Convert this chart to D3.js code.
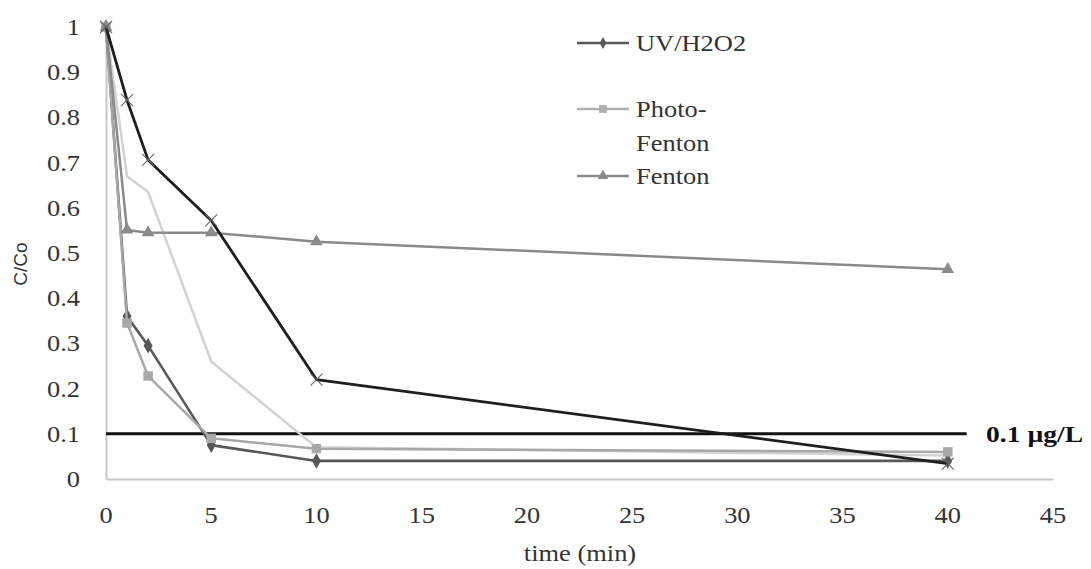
<!DOCTYPE html>
<html><head><meta charset="utf-8">
<script src="https://cdn.jsdelivr.net/npm/d3@7/dist/d3.min.js"></script>
<style>body{margin:0;background:#fff}svg{display:block}</style>
</head><body>
<svg id="c" width="1091" height="569"></svg>
<script>
const times = [0, 1, 2, 5, 10, 40];
const uvH2O2 = [1, 0.36, 0.295, 0.075, 0.04, 0.04];
const photoFenton = [1, 0.345, 0.228, 0.09, 0.067, 0.06];
const fenton = [1, 0.551, 0.545, 0.545, 0.525, 0.464];
const seriesX = [1, 0.838, 0.706, 0.572, 0.22, 0.034];
const seriesLight = [1, 0.67, 0.635, 0.26, 0.07, 0.052];
const limitValue = 0.1;
const limitRange = [0, 40.9];
const limitLabel = "0.1 µg/L";
const xTicks = [0, 5, 10, 15, 20, 25, 30, 35, 40, 45];
const yTicks = [0, 0.1, 0.2, 0.3, 0.4, 0.5, 0.6, 0.7, 0.8, 0.9, 1];
const legendNames = ["UV/H2O2", "Photo-Fenton", "Fenton"];

const svg = d3.select("#c");
const x = d3.scaleLinear().domain([0, 45]).range([106, 1053]);
const y = d3.scaleLinear().domain([0, 1]).range([479, 27]);
const serif = "'Liberation Serif', 'Times New Roman', serif";
const SX = 1.15, FS = 23;

function stext(px, py, str, anchor, opts = {}) {
  const t = svg.append("text")
    .attr("transform", `translate(${px},${py}) scale(${opts.sx || SX},1)`)
    .attr("text-anchor", anchor || "start")
    .style("font-family", opts.family || serif)
    .style("font-size", (opts.size || FS) + "px")
    .style("font-weight", opts.weight || "normal")
    .attr("fill", opts.fill || "#333")
    .text(str);
  return t;
}

// axes (lines + ticks via scales/axes, labels restyled)
const xa = svg.append("g").attr("transform", `translate(0,${y(0)})`)
  .call(d3.axisBottom(x).tickValues(xTicks).tickSize(0).tickFormat(""));
const ya = svg.append("g").attr("transform", `translate(${x(0)},0)`)
  .call(d3.axisLeft(y).tickValues(yTicks).tickSize(0).tickFormat(""));
[xa, ya].forEach(a => a.select(".domain").attr("stroke", "#c8c8c8").attr("stroke-width", 2));

xTicks.forEach(v => stext(x(v), 523, d3.format("d")(v), "middle"));
yTicks.forEach(v => stext(80, y(v) + 8, (v === 0 || v === 1) ? d3.format("d")(v) : d3.format(".1f")(v), "end"));

stext(580, 561, "time (min)", "middle");
svg.append("text").attr("transform", "translate(27,264) rotate(-90)").attr("text-anchor", "middle")
  .style("font-family", "'Liberation Sans', Arial, sans-serif").style("font-size", "19px").attr("fill", "#333").text("C/Co");

const line = d3.line().x(d => x(d[0])).y(d => y(d[1]));
const pts = vals => times.map((t, i) => [t, vals[i]]);

// limit line
svg.append("path").datum([[limitRange[0], limitValue], [limitRange[1], limitValue]])
  .attr("d", line).attr("stroke", "#111").attr("stroke-width", 3).attr("fill", "none");
stext(986, y(limitValue) + 8, limitLabel, "start", {weight: "bold", fill: "#111", sx: 1.2});

const series = [
  {vals: seriesLight, color: "#d2d2d2", w: 2.5, marker: null},
  {vals: uvH2O2, color: "#585858", w: 2.6, marker: d3.symbolDiamond, ms: 70},
  {vals: photoFenton, color: "#a8a8a8", w: 2.5, marker: d3.symbolSquare, ms: 90},
  {vals: fenton, color: "#8a8a8a", w: 2.5, marker: d3.symbolTriangle, ms: 70},
  {vals: seriesX, color: "#1e1e1e", w: 2.8, marker: "x", ms: 0},
];
series.forEach(s => {
  const p = pts(s.vals);
  svg.append("path").datum(p).attr("d", line).attr("stroke", s.color).attr("stroke-width", s.w)
    .attr("fill", "none").attr("stroke-linejoin", "round");
  if (s.marker === "x") {
    svg.append("g").selectAll("path").data(p).join("path")
      .attr("transform", d => `translate(${x(d[0])},${y(d[1])})`)
      .attr("d", "M-6,-6L6,6M-6,6L6,-6").attr("stroke", "#666").attr("stroke-width", 1.1);
  } else if (s.marker) {
    svg.append("g").selectAll("path").data(p).join("path")
      .attr("transform", d => `translate(${x(d[0])},${y(d[1])})`)
      .attr("d", d3.symbol().type(s.marker).size(s.ms)).attr("fill", s.color);
  }
});

// legend
const leg = [
  {color: "#585858", marker: d3.symbolDiamond, ms: 40, y: 43, lines: ["UV/H2O2"]},
  {color: "#b0b0b0", marker: d3.symbolSquare, ms: 60, y: 109, lines: ["Photo-", "Fenton"]},
  {color: "#8a8a8a", marker: d3.symbolTriangle, ms: 50, y: 176, lines: ["Fenton"]},
];
leg.forEach(l => {
  svg.append("line").attr("x1", 577).attr("x2", 629).attr("y1", l.y).attr("y2", l.y)
    .attr("stroke", l.color).attr("stroke-width", 2.5);
  svg.append("path").attr("transform", `translate(603,${l.y})`).attr("d", d3.symbol().type(l.marker).size(l.ms)).attr("fill", l.color);
  l.lines.forEach((t, i) => stext(636, l.y + 8 + i * 34, t, "start"));
});
</script>
</body></html>
